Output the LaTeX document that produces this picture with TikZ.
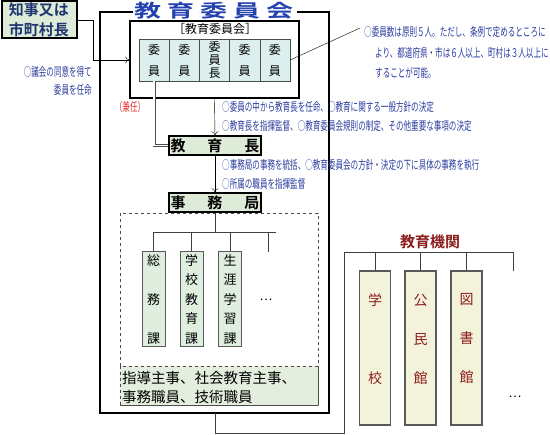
\documentclass[tikz,border=0pt]{standalone}
\usepackage{fontspec}
\setmainfont{Noto Sans CJK JP}[BoldFont={Noto Sans CJK JP Bold}]
\newfontfamily\jpnarrow{Noto Sans CJK JP}[FakeStretch=0.63]
\newfontfamily\jpwide{Noto Sans CJK JP Bold}[FakeStretch=1.5]
\usetikzlibrary{arrows.meta}

\definecolor{noteblue}{HTML}{2A3C9E}
\definecolor{titleblue}{HTML}{2442AE}
\definecolor{govblue}{HTML}{1F3570}
\definecolor{kenred}{HTML}{E53030}
\definecolor{kikanred}{HTML}{8C1C1C}
\definecolor{greenfill}{HTML}{DDEBD8}
\definecolor{memberfill}{HTML}{DCEEEE}
\definecolor{kafill}{HTML}{E0EEE0}
\definecolor{stafffill}{HTML}{E4EEDE}
\definecolor{kikanfill}{HTML}{F3F3DC}

\tikzset{
  greenbox/.style={draw, line width=1.8pt, fill=greenfill, inner sep=0pt},
  memberbox/.style={draw=black!70, fill=memberfill, minimum width=30.2pt,
    minimum height=42pt, inner sep=0pt, align=center, font=\fontsize{12}{21}\selectfont},
  kabox/.style={draw=black!65, line width=1pt, fill=kafill, minimum width=23pt,
    minimum height=95pt, inner sep=0pt, align=center, font=\fontsize{13}{19.5}\selectfont},
  kikanbox/.style={draw=black!65, line width=1.2pt, fill=kikanfill,
    minimum width=31pt, minimum height=154pt, inner sep=0pt},
  kikantext/.style={text=kikanred, align=center, inner sep=0pt,
    font=\fontsize{14}{39}\selectfont},
  note/.style={text=noteblue, inner sep=0pt, font=\jpnarrow\fontsize{12}{19}\selectfont},
  arr/.style={-{To[length=4pt,width=7pt]}},
  tree/.style={draw=black!75, line width=0.9pt},
}

\begin{document}
\begin{tikzpicture}[x=1pt,y=-1pt]
  \useasboundingbox (0,0) rectangle (550,435);

  % appointing body
  \node[greenbox, line width=2pt, minimum width=75pt, minimum height=37pt, align=center,
    text=govblue, font=\bfseries\fontsize{15}{20}\selectfont] (gov) at (39,20)
    {知事又は\\市町村長};
  \node[note, anchor=east, align=right, font=\jpnarrow\fontsize{12}{18}\selectfont]
    (govnote) at (92,81) {○議会の同意を得て\\委員を任命};

  % board outline with its title
  \draw[line width=1.5pt] (133,12) -- (100,12) -- (100,413) -- (329,413) -- (329,12) -- (297,12);
  \coordinate (boardbot) at (215,413);
  \node[text=titleblue, inner sep=0pt, font=\jpwide\fontsize{18}{18}\selectfont]
    (title) at (214,11) {教\hspace{6pt}育\hspace{6pt}委\hspace{6pt}員\hspace{6pt}会};

  \node[draw, line width=1.5pt, minimum width=169pt, minimum height=77pt, inner sep=0pt]
    (iinkai) at (214.5,59.5) {};
  \node[inner sep=0pt, font=\fontsize{12}{12}\selectfont] (iinkailabel) at (215,29)
    {［教育委員会］};

  \node[memberbox] (m1) at (154.1,60) {委\\員};
  \node[memberbox] (m2) at (184.3,60) {委\\員};
  \node[memberbox] (m3) at (214.5,60) {委\\[-8pt]員\\[-8pt]長};
  \node[memberbox] (m4) at (244.7,60) {委\\員};
  \node[memberbox] (m5) at (274.9,60) {委\\員};

  \coordinate (g1) at (93,60);
  \draw[arr] (gov.east) -| (g1) -- (g1 -| iinkai.west);

  \coordinate (ninzu) at (360,28);
  \draw (m5.east) -- (ninzu);
  \node[note, anchor=west, align=left, font=\jpnarrow\fontsize{12}{20.5}\selectfont]
    (ninzunote) at (364,52.5)
    {○委員数は原則５人。ただし、条例で定めるところに\\
     \hspace*{11pt}より、都道府県・市は６人以上、町村は３人以上に\\
     \hspace*{11pt}することが可能。};

  % superintendent and secretariat
  \node[greenbox, minimum width=92pt, minimum height=18.5pt,
    font=\bfseries\fontsize{15}{15}\selectfont] (kyoikucho) at (215,145.5)
    {教\hspace{22pt}育\hspace{22pt}長};
  \node[greenbox, minimum width=92pt, minimum height=18.5pt,
    font=\bfseries\fontsize{15}{15}\selectfont] (jimukyoku) at (215,202.5)
    {事\hspace{22pt}務\hspace{22pt}局};

  \draw[arr] (iinkai.south) -- (kyoikucho.north);
  \draw[arr] (kyoikucho.south) -- (jimukyoku.north);
  \draw[double, double distance=1.4pt, draw=black!70, line width=0.7pt]
    (m1.south) |- (kyoikucho.west);

  \node[text=kenred, inner sep=0pt, font=\jpnarrow\fontsize{12}{12}\selectfont]
    (kennin) at (130,107) {（兼任）};
  \node[note, anchor=west, align=left] (iinkainote) at (222,116.5)
    {○委員の中から教育長を任命、○教育に関する一般方針の決定\\
     ○教育長を指揮監督、○教育委員会規則の制定、その他重要な事項の決定};
  \node[note, anchor=west, align=left] (kyoikuchonote) at (222,174.5)
    {○事務局の事務を統括、○教育委員会の方針・決定の下に具体の事務を執行\\
     ○所属の職員を指揮監督};

  % secretariat staff
  \draw[dashed, draw=black!70, line width=0.9pt] (120,213) rectangle (318,405);
  \draw[dashed, draw=black!70, line width=0.9pt, fill=stafffill] (120,366) rectangle (318,405);
  \node[anchor=west, align=left, inner sep=0pt, font=\fontsize{14.5}{19}\selectfont]
    (staff) at (122,388) {指導主事、社会教育主事、\\事務職員、技術職員};

  \node[kabox] (ka1) at (153.5,299.5) {総\\[19.5pt]務\\[19.5pt]課};
  \node[kabox] (ka2) at (191.5,299.5) {学\\校\\教\\育\\課};
  \node[kabox] (ka3) at (230,299.5) {生\\涯\\学\\習\\課};
  \coordinate (ka4) at (268,252);
  \node[inner sep=0pt, font=\fontsize{12}{12}\selectfont] (kadots) at (266,300) {…};

  \coordinate (kabus) at (215,232);
  \draw[tree] (jimukyoku.south) -- (kabus);
  \draw[tree] (ka1.north |- kabus) -- (276,232);
  \draw[tree] (ka1.north |- kabus) -- (ka1.north);
  \draw[tree] (ka2.north |- kabus) -- (ka2.north);
  \draw[tree] (ka3.north |- kabus) -- (ka3.north);
  \draw[tree] (ka4 |- kabus) -- (ka4);

  % educational institutions
  \node[kikanbox] (s1) at (375,348) {};
  \node[kikanbox] (s2) at (420.5,348) {};
  \node[kikanbox] (s3) at (466.5,348) {};
  \node[kikantext] (s1t) at (375,339) {学\\[39pt]校};
  \node[kikantext] (s2t) at (420.5,339) {公\\民\\館};
  \node[kikantext] (s3t) at (466.5,339) {図\\書\\館};
  \node[inner sep=0pt, font=\fontsize{12}{12}\selectfont] (kikandots) at (515,397) {…};
  \node[text=kikanred, inner sep=0pt, font=\bfseries\fontsize{15}{15}\selectfont]
    (kikan) at (430,242) {教育機関};

  \coordinate (kbus) at (344,433);
  \coordinate (k4top) at (513,252);
  \coordinate (k4end) at (513,271);
  \draw[tree] (boardbot) |- (kbus) |- (k4top) -- (k4end);
  \draw[tree] (s1.north |- k4top) -- (s1.north);
  \draw[tree] (s2.north |- k4top) -- (s2.north);
  \draw[tree] (s3.north |- k4top) -- (s3.north);
\end{tikzpicture}
\end{document}
